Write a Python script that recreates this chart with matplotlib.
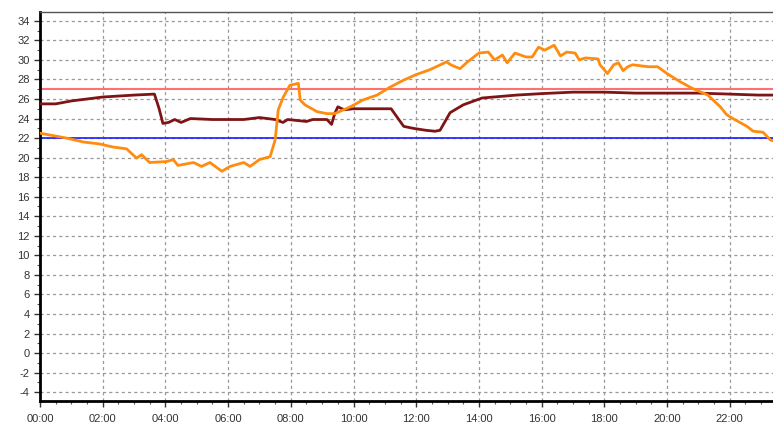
import matplotlib
matplotlib.use("Agg")
import matplotlib.pyplot as plt
from matplotlib.ticker import MultipleLocator, FuncFormatter

plt.rcParams["font.family"] = ["Liberation Sans", "DejaVu Sans"]
plt.rcParams["axes.unicode_minus"] = False

# hours of day and readings
indoor_h = [0.0, 0.5, 1.0, 1.5, 2.0, 3.0, 3.65, 3.8, 3.92, 4.1, 4.3, 4.5, 4.8, 5.5, 6.5,
            7.0, 7.5, 7.75, 7.9, 8.5, 8.7, 9.15, 9.3, 9.4, 9.5, 9.7, 10.0, 11.2, 11.6,
            11.9, 12.3, 12.6, 12.76, 13.08, 13.5, 14.1, 15.2, 16.0, 17.0, 18.0, 19.0,
            20.0, 21.0, 22.0, 22.9, 23.4]
indoor = [25.5, 25.5, 25.8, 26.0, 26.2, 26.4, 26.5, 25.0, 23.5, 23.6, 23.9, 23.6, 24.0,
          23.9, 23.9, 24.1, 23.9, 23.6, 23.9, 23.7, 23.9, 23.9, 23.4, 24.5, 25.2, 24.9,
          25.0, 25.0, 23.2, 23.0, 22.8, 22.7, 22.8, 24.6, 25.4, 26.1, 26.4, 26.55,
          26.7, 26.7, 26.6, 26.6, 26.6, 26.5, 26.4, 26.4]

outdoor_h = [0.0, 0.85, 1.38, 1.9, 2.3, 2.76, 3.08, 3.24, 3.5, 4.04, 4.25, 4.4, 4.9, 5.15,
             5.42, 5.8, 6.06, 6.5, 6.7, 7.0, 7.34, 7.5, 7.6, 7.76, 7.97, 8.24, 8.3, 8.45,
             8.84, 9.15, 9.4, 9.9, 10.3, 10.75, 11.16, 11.58, 12.0, 12.44, 12.97, 13.1,
             13.4, 13.6, 14.0, 14.3, 14.5, 14.75, 14.9, 15.15, 15.5, 15.7, 15.9, 16.1,
             16.4, 16.6, 16.8, 17.07, 17.2, 17.4, 17.8, 17.86, 18.1, 18.3, 18.45, 18.6,
             18.75, 18.9, 19.4, 19.7, 20.0, 20.4, 20.8, 21.3, 21.7, 21.9, 22.1, 22.55,
             22.75, 23.06, 23.3, 23.4]
outdoor = [22.5, 22.0, 21.6, 21.4, 21.1, 20.9, 19.95, 20.3, 19.5, 19.6, 19.8, 19.2, 19.5,
           19.1, 19.5, 18.6, 19.1, 19.5, 19.1, 19.8, 20.1, 21.8, 24.9, 26.2, 27.4, 27.6,
           25.9, 25.4, 24.7, 24.5, 24.5, 25.2, 25.9, 26.4, 27.2, 27.9, 28.5, 29.0, 29.8,
           29.5, 29.1, 29.7, 30.7, 30.8, 30.0, 30.5, 29.7, 30.7, 30.3, 30.3, 31.3, 31.0,
           31.5, 30.4, 30.8, 30.7, 30.0, 30.2, 30.1, 29.5, 28.6, 29.5, 29.7, 28.9, 29.3,
           29.5, 29.3, 29.3, 28.6, 27.8, 27.1, 26.4, 25.2, 24.4, 24.0, 23.2, 22.7, 22.6,
           21.8, 21.7]

upper_limit = 27
lower_limit = 22

fig = plt.figure(figsize=(7.73, 4.22), dpi=100)
ax = fig.add_axes([40 / 773, 21 / 422, 733 / 773, 389 / 422])

ax.axhline(upper_limit, color="#ff7070", lw=1.5, zorder=2)
ax.axhline(lower_limit, color="#1a1aff", lw=1.2, zorder=2)
ax.plot(indoor_h, indoor, color="#7f1416", lw=2, zorder=3)
ax.plot(outdoor_h, outdoor, color="#ff8c0f", lw=2, zorder=3)

ax.set_xlim(0, 23.38)
ax.set_ylim(-4.9, 34.9)
ax.xaxis.set_major_locator(MultipleLocator(2))
ax.xaxis.set_minor_locator(MultipleLocator(0.5))
ax.yaxis.set_major_locator(MultipleLocator(2))
ax.yaxis.set_minor_locator(MultipleLocator(1))
ax.xaxis.set_major_formatter(FuncFormatter(lambda v, p: "%02d:00" % int(round(v))))

ax.grid(True, which="major", linestyle=(0, (2.5, 2.5)), color="#999999", lw=0.9)
ax.tick_params(axis="both", which="major", labelsize=8, colors="#333333",
               length=4, width=1, direction="out")
ax.tick_params(axis="x", which="major", pad=5)
ax.tick_params(axis="both", which="minor", length=2, width=0.8, color="#555555")

for s in ["left", "bottom"]:
    ax.spines[s].set_linewidth(2)
    ax.spines[s].set_color("black")
ax.spines["top"].set_linewidth(1)
ax.spines["top"].set_color("#555555")
ax.spines["right"].set_visible(False)

fig.savefig("out.png", dpi=100)
